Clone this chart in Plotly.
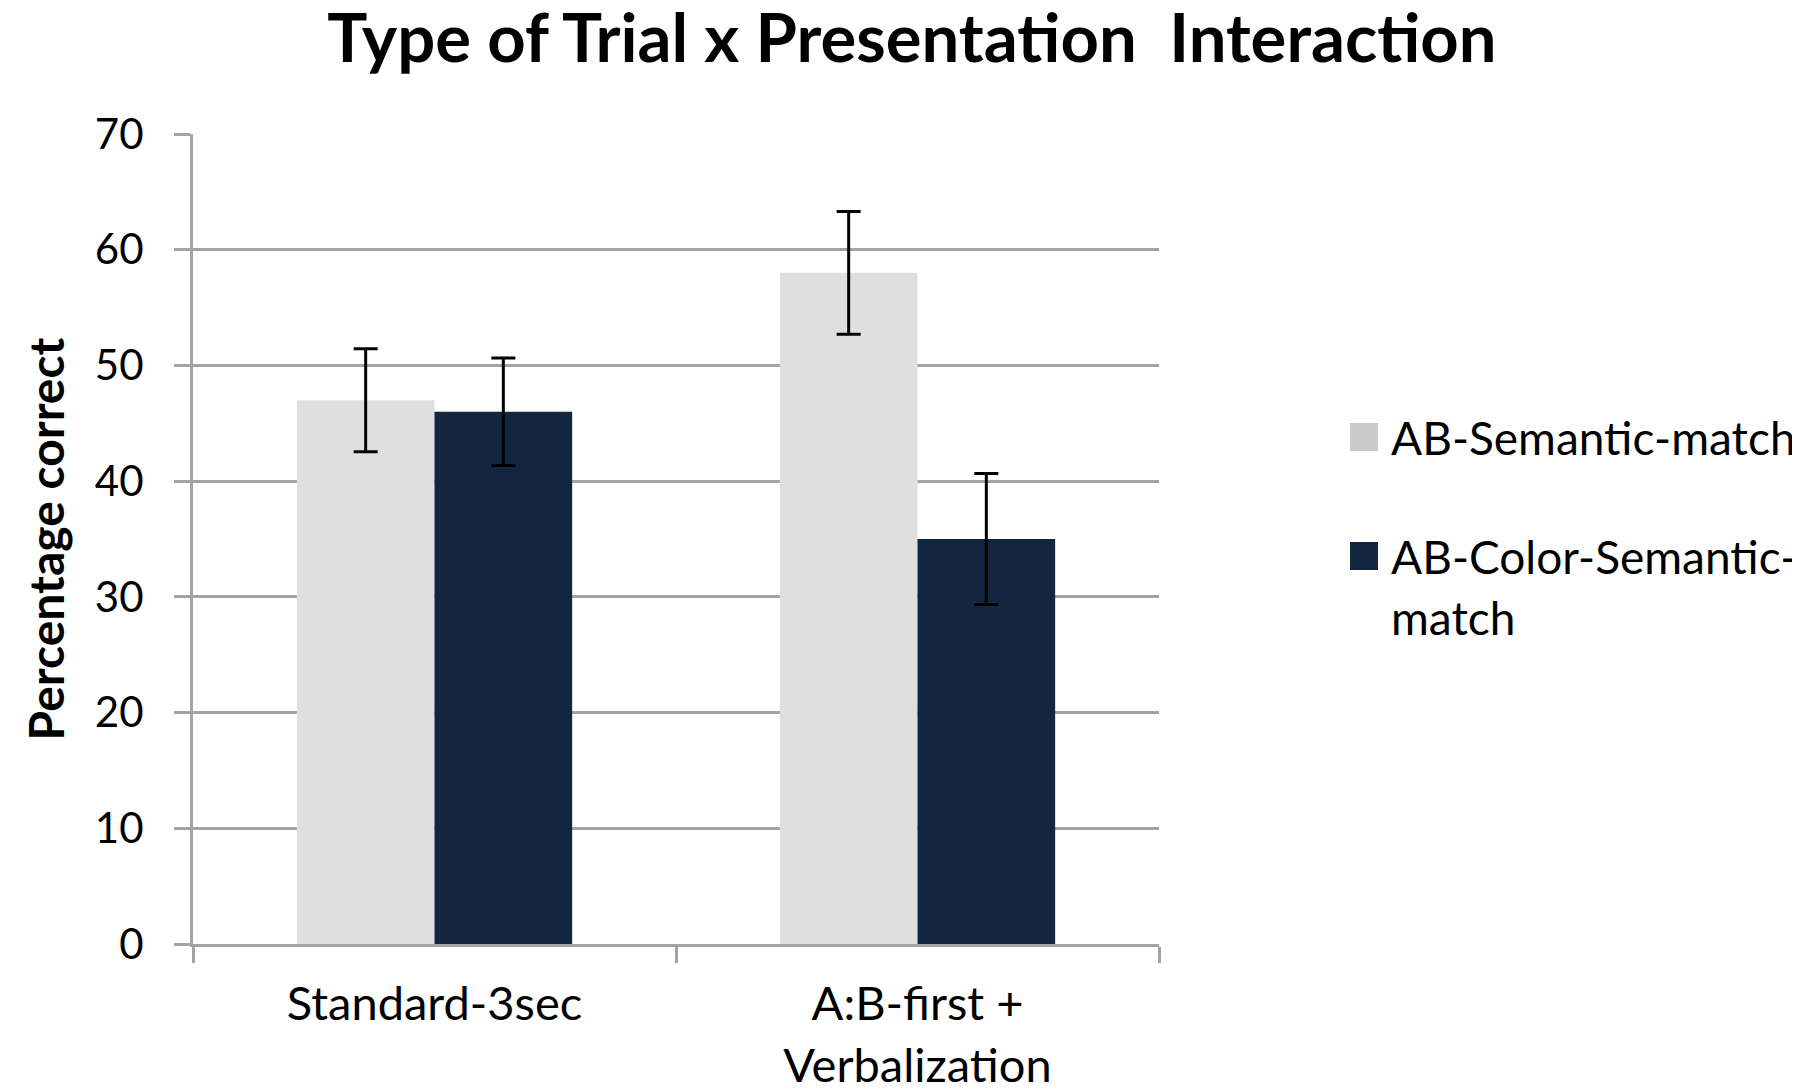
import plotly.graph_objects as go

# ---- data ----
categories = ["Standard-3sec", "A:B-first +<br>Verbalization"]
series_names = ["AB-Semantic-match", "AB-Color-Semantic-match"]
semantic_vals = [47, 58]
semantic_err = [4.45, 5.3]
color_sem_vals = [46, 35]
color_sem_err = [4.65, 5.65]
legend_lines = [["AB-Semantic-match"], ["AB-Color-Semantic-", "match"]]
y_ticks = [0, 10, 20, 30, 40, 50, 60, 70]

colors = ["#DFDFDF", "#132640"]
legend_colors = ["#C9C9C9", "#132640"]
FONT = "Lato"
GRID = "#A3A3A3"

# the page body has an 8px margin, so the figure is drawn 8px in from the top-left
OFF = 8
W, H = 1800 - OFF, 1089 - OFF
L, T = 193 - OFF, 134 - OFF
R = W - (1159 - OFF)
B = H - (944 - OFF)
PW = W - L - R
PH = H - T - B

fig = go.Figure()
for name, vals, errs, col in [
    (series_names[0], semantic_vals, semantic_err, colors[0]),
    (series_names[1], color_sem_vals, color_sem_err, colors[1]),
]:
    fig.add_trace(go.Bar(
        x=categories, y=vals, name=name, marker_color=col, marker_line_width=0,
        error_y=dict(type="data", array=errs, color="black", thickness=3, width=12),
        showlegend=False,
    ))

# manual legend (squares + text); positions given in screen pixels
def px_x(p):
    return (p - OFF - L) / PW

def px_y(p):
    return (H - B - (p - OFF)) / PH

item_y = [437, 556]
line_gap = 61
for i, lines in enumerate(legend_lines):
    yc = item_y[i]
    fig.add_shape(type="rect", xref="paper", yref="paper",
                  x0=px_x(1350), x1=px_x(1378), y0=px_y(yc + 14), y1=px_y(yc - 14),
                  fillcolor=legend_colors[i], line_width=0)
    for j, ln in enumerate(lines):
        fig.add_annotation(text=ln, xref="paper", yref="paper",
                           x=px_x(1389), y=px_y(yc + j * line_gap),
                           xanchor="left", yanchor="middle", showarrow=False,
                           font=dict(family=FONT, size=46, color="black"))

fig.update_layout(
    width=W, height=H,
    margin=dict(l=L, r=R, t=T, b=B, autoexpand=False),
    paper_bgcolor="white", plot_bgcolor="white",
    barmode="group", bargap=0.43, bargroupgap=0,
    title=dict(text="<b>Type of Trial x Presentation  Interaction</b>",
               x=(912 - OFF) / W, xanchor="center", xref="container",
               y=1, yanchor="top", yref="container", pad=dict(t=7),
               font=dict(family=FONT, size=67, color="black")),
    font=dict(family=FONT, color="black"),
)

fig.update_yaxes(
    range=[0, 70], tickvals=y_ticks, automargin=False,
    showgrid=True, gridcolor=GRID, gridwidth=3,
    showline=True, linecolor=GRID, linewidth=3,
    ticks="outside", ticklen=16, tickcolor=GRID, tickwidth=3,
    tickfont=dict(family=FONT, size=42, color="black"),
    ticklabelstandoff=22,
    zeroline=False,
    title=dict(text="<b>Percentage correct</b>", standoff=16,
               font=dict(family=FONT, size=48, color="black")),
)
fig.update_xaxes(
    automargin=False,
    showline=True, linecolor=GRID, linewidth=3,
    ticks="outside", tickson="boundaries", ticklen=16, tickcolor=GRID, tickwidth=3,
    tickfont=dict(family=FONT, size=47, color="black"),
    ticklabelstandoff=17,
    showgrid=False,
)

fig.write_html("out.html")
